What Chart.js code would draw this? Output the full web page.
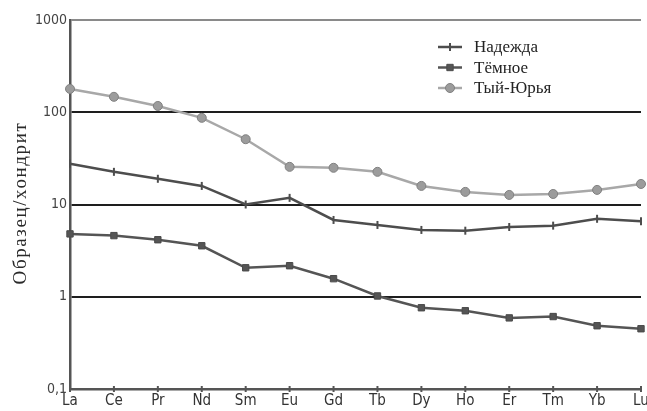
<!DOCTYPE html>
<html>
<head>
<meta charset="utf-8">
<script src="https://cdn.jsdelivr.net/npm/chart.js@4.4.0/dist/chart.umd.min.js"></script>
<style>
  html, body { margin: 0; padding: 0; background: #fff; overflow: hidden; }
  #wrap { width: 647px; height: 411px; }
</style>
</head>
<body>
<div id="wrap"><canvas id="reeChart" width="647" height="411"></canvas></div>
<script>
var elements = ['La', 'Ce', 'Pr', 'Nd', 'Sm', 'Eu', 'Gd', 'Tb', 'Dy', 'Ho', 'Er', 'Tm', 'Yb', 'Lu'];
var nadezhda = [27.6, 22.6, 19, 15.9, 10, 11.8, 6.8, 6.0, 5.3, 5.2, 5.7, 5.9, 7.0, 6.6];
var temnoe = [4.8, 4.6, 4.15, 3.57, 2.06, 2.17, 1.57, 1.02, 0.76, 0.705, 0.59, 0.61, 0.485, 0.45];
var tyyYurya = [179, 147, 117, 87, 51, 25.6, 25, 22.6, 15.9, 13.7, 12.7, 13, 14.4, 16.7];
var yTicks = [0.1, 1, 10, 100, 1000];
var yTickLabels = ['0,1', '1', '10', '100', '1000'];
var yTitle = 'Образец/хондрит';

// legend inside the plot (top right) and the spaced-out y title
var extras = {
    id: 'extras',
    afterDraw: function(chart) {
        var ctx = chart.ctx;
        var x0 = 438, y0 = 47, step = 20.5;
        chart.data.datasets.forEach(function(ds, i) {
            var y = y0 + i * step;
            ctx.save();
            ctx.strokeStyle = ds.borderColor;
            ctx.lineWidth = 2.5;
            ctx.beginPath();
            ctx.moveTo(x0, y);
            ctx.lineTo(x0 + 24, y);
            ctx.stroke();
            ctx.fillStyle = ds.pointBackgroundColor;
            ctx.strokeStyle = ds.pointBorderColor;
            ctx.lineWidth = ds.pointBorderWidth || 1;
            Chart.helpers.drawPoint(ctx, {
                pointStyle: ds.pointStyle,
                rotation: ds.pointRotation || 0,
                radius: ds.pointRadius,
                borderWidth: ds.pointBorderWidth || 1
            }, x0 + 12, y);
            ctx.fillStyle = '#222';
            ctx.font = '17px "Liberation Serif", serif';
            ctx.textBaseline = 'middle';
            ctx.fillText(ds.label, x0 + 36, y + 1);
            ctx.restore();
        });

        ctx.save();
        ctx.translate(21, 203);
        ctx.rotate(-Math.PI / 2);
        ctx.fillStyle = '#2a2a2a';
        ctx.font = '19px "Liberation Serif", serif';
        if ('letterSpacing' in ctx) ctx.letterSpacing = '1.6px';
        ctx.textAlign = 'center';
        ctx.textBaseline = 'middle';
        ctx.fillText(yTitle, 0, 0);
        ctx.restore();

        // small tick marks crossing the bottom axis
        var xs = chart.scales.x, bottom = chart.chartArea.bottom;
        ctx.save();
        ctx.strokeStyle = '#555';
        ctx.lineWidth = 2;
        elements.forEach(function(e, i) {
            var x = xs.getPixelForTick(i);
            ctx.beginPath();
            ctx.moveTo(x, bottom - 3);
            ctx.lineTo(x, bottom + 3);
            ctx.stroke();
        });
        ctx.restore();
    }
};

var ctx = document.getElementById('reeChart').getContext('2d');
var reeChart = new Chart(ctx, {
    type: 'line',
    data: {
        labels: elements,
        datasets: [{
            label: 'Надежда',
            data: nadezhda,
            borderColor: '#4d4d4d',
            borderWidth: 2.5,
            pointStyle: 'line',
            pointRotation: 90,
            pointRadius: 4,
            pointBorderWidth: 2,
            pointBorderColor: '#4d4d4d',
            pointBackgroundColor: '#4d4d4d',
            tension: 0
        }, {
            label: 'Тёмное',
            data: temnoe,
            borderColor: '#555555',
            borderWidth: 2.5,
            pointStyle: 'rect',
            pointRadius: 4.5,
            pointBorderWidth: 1,
            pointBorderColor: '#4a4a4a',
            pointBackgroundColor: '#555555',
            tension: 0
        }, {
            label: 'Тый-Юрья',
            data: tyyYurya,
            borderColor: '#a8a8a8',
            borderWidth: 2.5,
            pointStyle: 'circle',
            pointRadius: 4.5,
            pointBorderWidth: 1,
            pointBorderColor: '#808080',
            pointBackgroundColor: '#9c9c9c',
            tension: 0
        }]
    },
    options: {
        responsive: false,
        animation: false,
        layout: { padding: { top: 20, right: 5, left: 0, bottom: 0 } },
        plugins: {
            legend: { display: false },
            tooltip: { enabled: false }
        },
        scales: {
            x: {
                type: 'category',
                offset: false,
                grid: {
                    display: true,
                    drawOnChartArea: false,
                    drawTicks: true,
                    tickLength: 3,
                    color: '#555'
                },
                border: { display: true, color: '#555', width: 2.5 },
                ticks: {
                    color: '#333',
                    padding: 0,
                    maxRotation: 0,
                    autoSkip: false,
                    font: { family: '"Liberation Sans Narrow", "DejaVu Sans Condensed", sans-serif', size: 15 }
                },
                afterFit: function(scale) {
                    scale.height = 22;
                    scale.paddingRight = 0;
                    scale.paddingLeft = 0;
                }
            },
            y: {
                type: 'logarithmic',
                min: 0.1,
                max: 1000,
                afterBuildTicks: function(scale) {
                    scale.ticks = yTicks.map(function(v) { return { value: v }; });
                },
                afterFit: function(scale) {
                    scale.width = 70;
                    scale.paddingTop = 0;
                    scale.paddingBottom = 0;
                },
                grid: {
                    drawTicks: false,
                    lineWidth: function(c) { return c.tick && c.tick.value === 0.1 ? 0 : 2; },
                    color: function(c) {
                        if (c.tick && c.tick.value === 1000) return '#8a8a8a';
                        return '#1e1e1e';
                    }
                },
                border: { display: true, color: '#555', width: 2.5 },
                ticks: {
                    color: '#444',
                    padding: 3,
                    font: { family: '"Liberation Sans Narrow", "DejaVu Sans Condensed", sans-serif', size: 14 },
                    callback: function(value) {
                        var i = yTicks.indexOf(value);
                        return i >= 0 ? yTickLabels[i] : '';
                    }
                },
                title: { display: false }
            }
        }
    },
    plugins: [extras]
});
</script>
</body>
</html>
